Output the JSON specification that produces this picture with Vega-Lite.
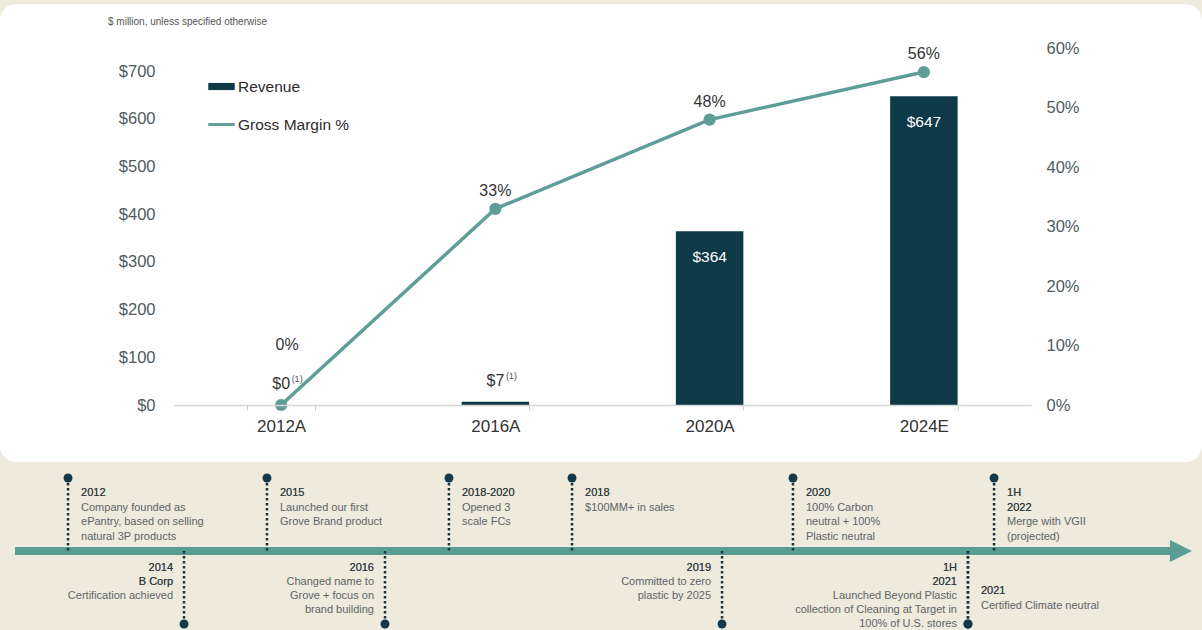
{
  "$schema": "https://vega.github.io/schema/vega-lite/v6.json",
  "width": 1202,
  "height": 630,
  "autosize": {"type": "none"},
  "padding": 0,
  "background": "#eeeadc",
  "title": {
    "text": "$ million, unless specified otherwise",
    "anchor": "start",
    "frame": "group",
    "fontSize": 10,
    "fontWeight": "normal",
    "color": "#555555",
    "dx": 108,
    "dy": 32,
    "offset": 0,
    "baseline": "middle"
  },
  "config": {"font": "Liberation Sans", "view": {"stroke": null}, "axis": {"grid": false, "zindex": 1}},
  "datasets": {
    "fin": [
      {"period": "2012A", "revenue": 0, "margin": 0, "note": "(1)"},
      {"period": "2016A", "revenue": 7, "margin": 0.33, "note": "(1)"},
      {"period": "2020A", "revenue": 364, "margin": 0.48, "note": ""},
      {"period": "2024E", "revenue": 647, "margin": 0.56, "note": ""}
    ],
    "events": [
      {"pos": 5.66, "side": "above", "head": "2012", "lines": "2012|Company founded as|ePantry, based on selling|natural 3P products"},
      {"pos": 15.31, "side": "below", "head": "2014|B Corp", "lines": "2014|B Corp|Certification achieved"},
      {"pos": 22.21, "side": "above", "head": "2015", "lines": "2015|Launched our first|Grove Brand product"},
      {"pos": 32.03, "side": "below", "head": "2016", "lines": "2016|Changed name to|Grove + focus on|brand building"},
      {"pos": 37.35, "side": "above", "head": "2018-2020", "lines": "2018-2020|Opened 3|scale FCs"},
      {"pos": 47.59, "side": "above", "head": "2018", "lines": "2018|$100MM+ in sales"},
      {"pos": 60.07, "side": "below", "head": "2019", "lines": "2019|Committed to zero|plastic by 2025"},
      {"pos": 65.97, "side": "above", "head": "2020", "lines": "2020|100% Carbon|neutral + 100%|Plastic neutral"},
      {"pos": 80.53, "side": "below", "head": "1H|2021", "lines": "1H|2021|Launched Beyond Plastic|collection of Cleaning at Target in|100% of U.S. stores"},
      {"pos": 80.53, "side": "below-right", "head": "2021", "lines": "2021|Certified Climate neutral"},
      {"pos": 82.7, "side": "above", "head": "1H|2022", "lines": "1H|2022|Merge with VGII|(projected)"}
    ]
  },
  "layer": [
    {
      "data": {"name": "fin"},
      "layer": [
        {
          "data": {"values": [{"panel": "chart"}]},
          "mark": {"type": "rect", "fill": "white", "cornerRadius": 16},
          "encoding": {"y": {"datum": 840, "type": "quantitative"}, "y2": {"datum": -119.5}}
        },
        {
          "mark": {"type": "bar"},
          "encoding": {
            "x": {
              "field": "period", "type": "nominal", "sort": null,
              "scale": {"range": [174, 1031], "paddingInner": 0.685, "paddingOuter": 0.3425},
              "axis": {"title": null, "orient": "bottom", "offset": -225, "zindex": 1, "labelFontSize": 17, "labelColor": "#333333", "labelPadding": 8, "labelAngle": 0, "domainColor": "#d6d6d6", "domainWidth": 1.5, "tickColor": "#cfcfcf", "tickSize": 5, "tickBand": "extent"}
            },
            "y": {
              "field": "revenue", "type": "quantitative",
              "scale": {"domain": [0, 700], "range": [405, 71], "nice": false, "zero": true},
              "axis": {"title": null, "orient": "left", "offset": -155, "zindex": 1, "values": [0, 100, 200, 300, 400, 500, 600, 700], "labelExpr": "'$' + datum.value", "labelFontSize": 16.5, "labelColor": "#4f5b62", "domain": false, "ticks": false, "tickSize": 0, "labelPadding": 0}
            },
            "color": {
              "datum": "Revenue",
              "scale": {"domain": ["Revenue", "Gross Margin %"], "range": ["#0e3a47", "#5e9e96"]},
              "legend": {
                "title": null, "orient": "none", "legendX": 208, "legendY": 73,
                "symbolType": "M-1,-0.27H1V0.27H-1Z", "symbolSize": 700, "symbolStrokeWidth": 0,
                "labelFontSize": 15.5, "labelColor": "#2b2b2b", "labelOffset": 3, "rowPadding": 16,
                "encode": {
                  "symbols": {
                    "update": {
                      "shape": {"signal": "datum.value === 'Revenue' ? 'M-1,-0.27H1V0.27H-1Z' : 'M-1,-0.11H1V0.11H-1Z'"},
                      "fill": {"scale": "color", "field": "value"},
                      "stroke": {"value": "transparent"},
                      "opacity": {"value": 1}
                    }
                  }
                }
              }
            }
          }
        },
        {
          "transform": [{"filter": {"field": "revenue", "gte": 50}}],
          "mark": {"type": "text", "color": "white", "fontSize": 15.5, "baseline": "middle", "dy": 26},
          "encoding": {
            "x": {"field": "period", "type": "nominal", "sort": null},
            "y": {"field": "revenue", "type": "quantitative"},
            "text": {"field": "revenue", "format": "$.0f"}
          }
        },
        {
          "transform": [{"filter": {"field": "revenue", "lt": 50}}],
          "mark": {"type": "text", "color": "#333333", "fontSize": 16, "baseline": "middle", "dy": -21},
          "encoding": {
            "x": {"field": "period", "type": "nominal", "sort": null},
            "y": {"field": "revenue", "type": "quantitative"},
            "text": {"field": "revenue", "format": "$.0f"}
          }
        },
        {
          "transform": [{"filter": {"field": "note", "equal": "(1)"}}],
          "mark": {"type": "text", "color": "#555555", "fontSize": 9, "baseline": "middle", "dy": -26, "dx": 16},
          "encoding": {
            "x": {"field": "period", "type": "nominal", "sort": null},
            "y": {"field": "revenue", "type": "quantitative"},
            "text": {"field": "note"}
          }
        }
      ]
    },
    {
      "data": {"name": "fin"},
      "layer": [
        {
          "mark": {"type": "line", "strokeWidth": 3.5},
          "encoding": {
            "x": {"field": "period", "type": "nominal", "sort": null, "scale": {"range": [174, 1031], "paddingInner": 0.685, "paddingOuter": 0.3425}, "axis": null},
            "y": {
              "field": "margin", "type": "quantitative",
              "scale": {"domain": [0, 0.6], "range": [405, 48.3], "nice": false},
              "axis": {"title": null, "orient": "right", "offset": -156, "zindex": 1, "values": [0, 0.1, 0.2, 0.3, 0.4, 0.5, 0.6], "format": ".0%", "labelFontSize": 16.5, "labelColor": "#4f5b62", "domain": false, "ticks": false, "tickSize": 0, "labelPadding": 0}
            },
            "color": {"datum": "Gross Margin %"}
          }
        },
        {
          "mark": {"type": "circle", "size": 150, "opacity": 1},
          "encoding": {
            "x": {"field": "period", "type": "nominal", "sort": null, "axis": null},
            "y": {"field": "margin", "type": "quantitative"},
            "color": {"datum": "Gross Margin %"}
          }
        },
        {
          "transform": [{"filter": {"field": "margin", "gt": 0}}],
          "mark": {"type": "text", "fontSize": 16, "color": "#333333", "baseline": "middle", "dy": -18},
          "encoding": {
            "x": {"field": "period", "type": "nominal", "sort": null, "axis": null},
            "y": {"field": "margin", "type": "quantitative"},
            "text": {"field": "margin", "format": ".0%"}
          }
        },
        {
          "transform": [{"filter": {"field": "margin", "lte": 0}}],
          "mark": {"type": "text", "fontSize": 16, "color": "#333333", "baseline": "middle", "dy": -60, "dx": 6},
          "encoding": {
            "x": {"field": "period", "type": "nominal", "sort": null, "axis": null},
            "y": {"field": "margin", "type": "quantitative"},
            "text": {"field": "margin", "format": ".0%"}
          }
        }
      ]
    },
    {
      "data": {"name": "events"},
      "layer": [
        {
          "data": {"values": [{"label": "timeline"}]},
          "mark": {"type": "rule", "strokeWidth": 8, "color": "#5b9c95", "strokeCap": "butt"},
          "encoding": {
            "x": {"datum": 1.25, "type": "quantitative", "scale": {"domain": [0, 100], "nice": false, "zero": false}, "axis": null},
            "x2": {"datum": 97.4},
            "y": {"datum": 0, "type": "quantitative", "scale": {"domain": [-1, 1], "range": [624, 478], "nice": false, "zero": false}, "axis": null}
          }
        },
        {
          "data": {"values": [{"label": "timeline"}]},
          "mark": {"type": "point", "shape": "M-1,-1L1,0L-1,1Z", "filled": true, "size": 484, "color": "#5b9c95", "opacity": 1, "strokeWidth": 0},
          "encoding": {
            "x": {"datum": 98.25, "type": "quantitative", "axis": null},
            "y": {"datum": 0, "type": "quantitative", "axis": null}
          }
        },
        {
          "transform": [{"filter": {"field": "side", "equal": "above"}}],
          "mark": {"type": "rule", "strokeWidth": 2.5, "strokeDash": [2.5, 2.5], "color": "#1c3440"},
          "encoding": {
            "x": {"field": "pos", "type": "quantitative", "axis": null},
            "y": {"datum": 1, "type": "quantitative", "axis": null},
            "y2": {"datum": 0}
          }
        },
        {
          "transform": [{"filter": {"field": "side", "oneOf": ["below", "below-right"]}}],
          "mark": {"type": "rule", "strokeWidth": 2.5, "strokeDash": [2.5, 2.5], "color": "#1c3440"},
          "encoding": {
            "x": {"field": "pos", "type": "quantitative", "axis": null},
            "y": {"datum": 0, "type": "quantitative", "axis": null},
            "y2": {"datum": -1}
          }
        },
        {
          "transform": [{"filter": {"field": "side", "equal": "above"}}],
          "mark": {"type": "circle", "size": 80, "color": "#13394a", "opacity": 1},
          "encoding": {
            "x": {"field": "pos", "type": "quantitative", "axis": null},
            "y": {"datum": 1, "type": "quantitative", "axis": null}
          }
        },
        {
          "transform": [{"filter": {"field": "side", "oneOf": ["below", "below-right"]}}],
          "mark": {"type": "circle", "size": 80, "color": "#13394a", "opacity": 1},
          "encoding": {
            "x": {"field": "pos", "type": "quantitative", "axis": null},
            "y": {"datum": -1, "type": "quantitative", "axis": null}
          }
        },
        {
          "transform": [{"filter": {"field": "side", "equal": "above"}}],
          "mark": {"type": "text", "align": "left", "baseline": "top", "dx": 13, "dy": 9, "fontSize": 11, "lineHeight": 14.5, "lineBreak": "|", "color": "#5d6569"},
          "encoding": {
            "x": {"field": "pos", "type": "quantitative", "axis": null},
            "y": {"datum": 1, "type": "quantitative", "axis": null},
            "text": {"field": "lines"}
          }
        },
        {
          "transform": [{"filter": {"field": "side", "equal": "above"}}],
          "mark": {"type": "text", "align": "left", "baseline": "top", "dx": 13, "dy": 9, "fontSize": 11, "lineHeight": 14.5, "lineBreak": "|", "color": "#2f3b41"},
          "encoding": {
            "x": {"field": "pos", "type": "quantitative", "axis": null},
            "y": {"datum": 1, "type": "quantitative", "axis": null},
            "text": {"field": "head"}
          }
        },
        {
          "transform": [{"filter": {"field": "side", "equal": "below"}}],
          "mark": {"type": "text", "align": "right", "baseline": "top", "dx": -11, "dy": 11, "fontSize": 11, "lineHeight": 14, "lineBreak": "|", "color": "#5d6569"},
          "encoding": {
            "x": {"field": "pos", "type": "quantitative", "axis": null},
            "y": {"datum": 0, "type": "quantitative", "axis": null},
            "text": {"field": "lines"}
          }
        },
        {
          "transform": [{"filter": {"field": "side", "equal": "below"}}],
          "mark": {"type": "text", "align": "right", "baseline": "top", "dx": -11, "dy": 11, "fontSize": 11, "lineHeight": 14, "lineBreak": "|", "color": "#2f3b41"},
          "encoding": {
            "x": {"field": "pos", "type": "quantitative", "axis": null},
            "y": {"datum": 0, "type": "quantitative", "axis": null},
            "text": {"field": "head"}
          }
        },
        {
          "transform": [{"filter": {"field": "side", "equal": "below-right"}}],
          "mark": {"type": "text", "align": "left", "baseline": "top", "dx": 13, "dy": 34, "fontSize": 11, "lineHeight": 14.5, "lineBreak": "|", "color": "#5d6569"},
          "encoding": {
            "x": {"field": "pos", "type": "quantitative", "axis": null},
            "y": {"datum": 0, "type": "quantitative", "axis": null},
            "text": {"field": "lines"}
          }
        },
        {
          "transform": [{"filter": {"field": "side", "equal": "below-right"}}],
          "mark": {"type": "text", "align": "left", "baseline": "top", "dx": 13, "dy": 34, "fontSize": 11, "lineHeight": 14.5, "lineBreak": "|", "color": "#2f3b41"},
          "encoding": {
            "x": {"field": "pos", "type": "quantitative", "axis": null},
            "y": {"datum": 0, "type": "quantitative", "axis": null},
            "text": {"field": "head"}
          }
        }
      ]
    }
  ],
  "resolve": {"scale": {"x": "independent", "y": "independent"}}
}
